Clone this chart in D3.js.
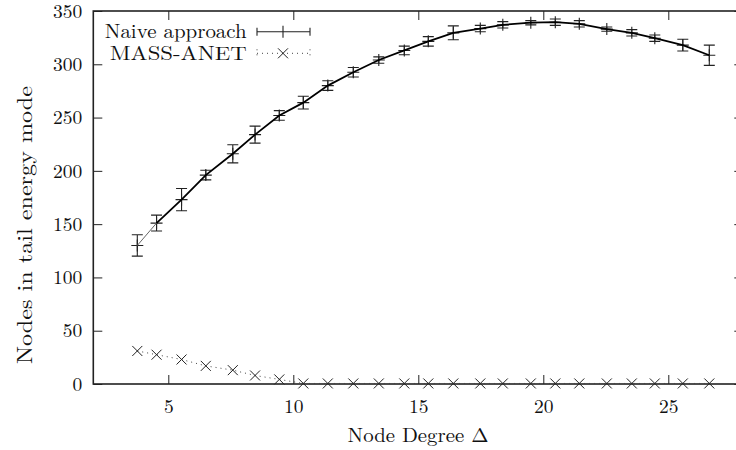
<!DOCTYPE html>
<html>
<head>
<meta charset="utf-8">
<script src="https://cdn.jsdelivr.net/npm/d3@7"></script>
<style>
  body { margin: 0; background: #fff; }
  svg { display: block; }
</style>
</head>
<body>
<div id="chart"></div>
<script>
// node degree values (x)
var degrees = [3.76, 4.53, 5.53, 6.5, 7.58, 8.47, 9.44, 10.4, 11.38, 12.4, 13.42, 14.44,
               15.4, 16.4, 17.48, 18.38, 19.5, 20.48, 21.44, 22.54, 23.54, 24.46, 25.58, 26.64];
// naive approach mean and error
var naive = [130, 151, 173, 196, 216, 234, 252, 264, 280, 292.5, 304, 313,
             321.5, 329.5, 333.5, 337, 339, 339.5, 338, 333, 329.5, 324.5, 318, 308.5];
var naiveErr = [10, 7.5, 10.5, 4.5, 8.5, 8, 4.5, 6, 4.5, 4.5, 3, 4,
                4.5, 6.5, 3, 3, 2, 3, 3, 2, 3, 3, 5.5, 9.5];
// MASS-ANET
var massAnet = [31, 27.5, 23, 17, 13, 8, 4.3, 0.5, 0.5, 0.5, 0.5, 0.5,
                0.5, 0.5, 0.5, 0.5, 0.5, 0.5, 0.5, 0.5, 0.5, 0.5, 0.5, 0.5];
var xTicks = [5, 10, 15, 20, 25];
var yTicks = [0, 50, 100, 150, 200, 250, 300, 350];

var FONT = "'Latin Modern Roman', 'Liberation Serif'";

var width = 736, height = 450;
var margin = {left: 93.3, top: 11, right: -7.3, bottom: 66};
var innerW = width - margin.left - margin.right,
    innerH = height - margin.top - margin.bottom;

var svg = d3.select("#chart").append("svg").attr("width", width).attr("height", height);
var g = svg.append("g").attr("transform", "translate(" + margin.left + "," + margin.top + ")");

var x = d3.scaleLinear().domain([2, 28]).range([0, innerW]);
var y = d3.scaleLinear().domain([0, 350]).range([innerH, 0]);

// axes, ticks pointing inward, mirrored on top and right
g.append("g").attr("transform", "translate(0," + innerH + ")")
    .call(d3.axisBottom(x).tickValues(xTicks).tickSizeInner(-9).tickSizeOuter(0).tickPadding(15));
g.append("g")
    .call(d3.axisLeft(y).tickValues(yTicks).tickSizeInner(-9).tickSizeOuter(0).tickPadding(11));
g.append("g").call(d3.axisTop(x).tickValues(xTicks).tickSizeInner(-9).tickSizeOuter(0).tickFormat(""));
g.append("g").attr("transform", "translate(" + innerW + ",0)")
    .call(d3.axisRight(y).tickValues(yTicks).tickSizeInner(-9).tickSizeOuter(0).tickFormat(""));
g.selectAll(".domain").remove();
g.selectAll(".tick line").attr("stroke", "#222").attr("stroke-width", 1);
g.selectAll(".tick text").style("font-family", FONT).style("font-size", "19.5px").attr("fill", "#111");

// frame
g.append("rect").attr("width", innerW).attr("height", innerH)
    .attr("fill", "none").attr("stroke", "#222").attr("stroke-width", 1.6);

var pts = degrees.map(function(d, i) {
    return {x: d, y: naive[i], e: naiveErr[i], m: massAnet[i]};
});

// MASS-ANET dotted line with x markers
var lineM = d3.line().x(function(d) { return x(d.x); }).y(function(d) { return y(d.m); });
g.append("path").datum(pts).attr("d", lineM).attr("fill", "none")
    .attr("stroke", "#444").attr("stroke-width", 1).attr("stroke-dasharray", "1,4");
var cross = function(sel, s) {
    sel.append("path").attr("d", function(d) {
        var cx = x(d.x), cy = y(d.m);
        return "M" + (cx - s) + "," + (cy - s) + "L" + (cx + s) + "," + (cy + s) +
               "M" + (cx - s) + "," + (cy + s) + "L" + (cx + s) + "," + (cy - s);
    }).attr("stroke", "#222").attr("stroke-width", 1).attr("fill", "none");
};
g.selectAll(".mpt").data(pts).enter().append("g").attr("class", "mpt").call(cross, 5);

// naive approach: error bars
var eb = g.selectAll(".eb").data(pts).enter().append("g").attr("class", "eb")
    .attr("stroke", "#222").attr("stroke-width", 1.1).attr("fill", "none");
eb.append("path").attr("d", function(d) {
    var cx = x(d.x), t = y(d.y + d.e), b = y(d.y - d.e);
    return "M" + cx + "," + t + "L" + cx + "," + b +
           "M" + (cx - 5.5) + "," + t + "L" + (cx + 5.5) + "," + t +
           "M" + (cx - 5.5) + "," + b + "L" + (cx + 5.5) + "," + b;
});
// plus markers
eb.append("path").attr("d", function(d) {
    var cx = x(d.x), cy = y(d.y);
    return "M" + (cx - 6) + "," + cy + "L" + (cx + 6) + "," + cy +
           "M" + cx + "," + (cy - 6) + "L" + cx + "," + (cy + 6);
});

// naive line: thin first segment, thicker remainder
var lineN = d3.line().x(function(d) { return x(d.x); }).y(function(d) { return y(d.y); });
g.append("path").datum(pts.slice(0, 2)).attr("d", lineN).attr("fill", "none")
    .attr("stroke", "#666").attr("stroke-width", 1);
g.append("path").datum(pts.slice(1)).attr("d", lineN).attr("fill", "none")
    .attr("stroke", "#000").attr("stroke-width", 1.8);

// axis labels
svg.append("text").attr("x", 418).attr("y", 441.5).attr("text-anchor", "middle")
    .style("font-family", FONT).style("font-size", "19.5px").attr("fill", "#111")
    .attr("textLength", 141).attr("lengthAdjust", "spacingAndGlyphs").text("Node Degree \u0394");
svg.append("text").attr("transform", "translate(32,225) rotate(-90)").attr("text-anchor", "middle")
    .style("font-family", FONT).style("font-size", "21px").attr("fill", "#111")
    .attr("textLength", 278).attr("lengthAdjust", "spacingAndGlyphs").text("Nodes in tail energy mode");

// legend
var lx = 246.7, ly1 = 31.7, ly2 = 53.3;
var leg = svg.append("g");
leg.append("text").attr("x", lx - 142).attr("y", ly1).attr("dy", "0.33em")
    .style("font-family", FONT).style("font-size", "19.5px").attr("fill", "#111")
    .attr("textLength", 142).attr("lengthAdjust", "spacingAndGlyphs").text("Naive approach");
leg.append("text").attr("x", lx - 137).attr("y", ly2).attr("dy", "0.33em")
    .style("font-family", FONT).style("font-size", "19.5px").attr("fill", "#111")
    .attr("textLength", 137).attr("lengthAdjust", "spacingAndGlyphs").text("MASS-ANET");
leg.append("path").attr("d", "M257," + ly1 + "L310," + ly1 + "M257," + (ly1 - 4) + "L257," + (ly1 + 4) +
        "M310," + (ly1 - 4) + "L310," + (ly1 + 4) + "M283," + (ly1 - 6) + "L283," + (ly1 + 6))
    .attr("stroke", "#222").attr("stroke-width", 1.1).attr("fill", "none");
leg.append("path").attr("d", "M257," + ly2 + "L310," + ly2 + "M257," + (ly2 - 4) + "L257," + (ly2 + 4) +
        "M310," + (ly2 - 4) + "L310," + (ly2 + 4))
    .attr("stroke", "#444").attr("stroke-width", 1).attr("stroke-dasharray", "1,4").attr("fill", "none");
leg.append("path").attr("d", "M278," + (ly2 - 5) + "L288," + (ly2 + 5) + "M278," + (ly2 + 5) + "L288," + (ly2 - 5))
    .attr("stroke", "#222").attr("stroke-width", 1).attr("fill", "none");
</script>
</body>
</html>
